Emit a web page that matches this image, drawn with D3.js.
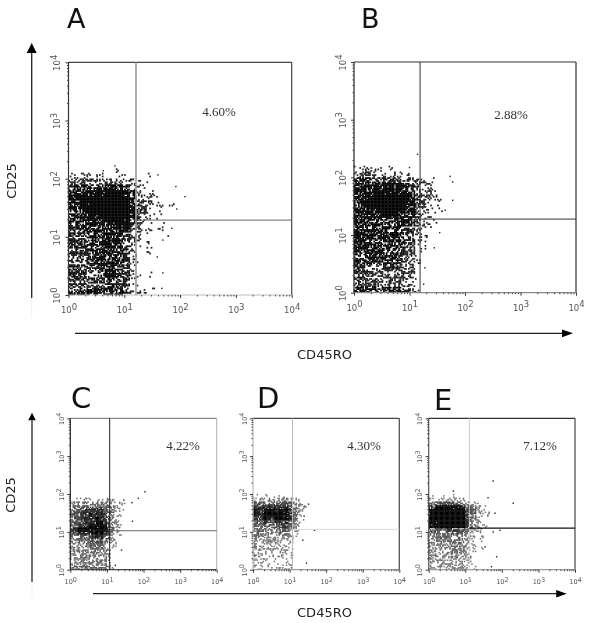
<!DOCTYPE html>
<html>
<head>
<meta charset="utf-8">
<script src="https://cdnjs.cloudflare.com/ajax/libs/d3/7.8.5/d3.min.js"></script>
<style>
  html, body { margin: 0; padding: 0; background: #fff; }
  svg { display: block; }
  .soft { filter: blur(0.45px); }
</style>
</head>
<body>
<script>
// dot clouds: darkness 0-9 for each 0.1 decade cell.
// rows go from CD25 10^2.2 down to 10^0, columns from CD45RO 10^0 to 10^2
const cloudA = [
  "00000000100000000000","11210120011000100000","33443434333210100000","56666777665321100000",
  "77778889987632110000","77889999998643210000","77889999999754211010","77788999999854211000",
  "66778889999653111000","66677778888542100100","55666677776431101000","55566677775320100100",
  "55556677765320100000","55566677665220100000","55556677665210100000","55555667765210000000",
  "55555667665210100000","55555567655100000000","55555567655110100000","55545556555100000000",
  "55545556555110010000","66666666665321000000"]
const cloudB = [
  "11111110000000000000","23321212221000000000","66655555444321100000","77777777765432100000",
  "77778888775432110000","77889999987543210000","77889999988532110000","77788999977432110000",
  "77777888776322100000","66666666665321100000","66666666655221000000","77777666655211000000",
  "77776666655211000000","66666666655210000000","66666666544110000000","65666666544100000000",
  "66665666533100000000","55554555433000000000","55544444433000000000","55443444443100000000",
  "55443344443000000000","66665566654100000000"]
const cloudC = [
  "00000000000000000000","00000000000000000000","00000000000000000000","11121212112210000000",
  "34445444443321100000","55566666655432100000","56677777766531100000","56677877776531100000",
  "56677778776421000000","56677778876421000000","66777888886521000000","77888889887521000000",
  "66777788876311000000","55566677765210000000","44555666654210000000","44445555543110000000",
  "44444455543110000000","33444454442100000000","33444444442100000000","33343444442100000000",
  "33343444442000000000","55555555553100000000"]
const cloudD = [
  "00000000000000000000","00000000000000000000","01011101100000000000","33334333433210000000",
  "66556656665432100000","77777777776531100000","87788878887631100000","87788888887631100000",
  "77787788887531000000","66676677776421000000","65566666765321000000","55555555654210000000",
  "55544445543110000000","54433333432100000000","53332333331100000000","42222222221100000000",
  "42222222221100000000","41121212221000000000","41112111111000000000","31111111111000000000",
  "21111111111000000000","33222222221100000000"]
const cloudE = [
  "00000000000000000000","00000000000000000000","01001010100000000000","22322322221100000000",
  "55566666554321000000","77888888876543210000","88999999987653211000","88999999987653211000",
  "88889999987643210000","88899999987543100000","88999999987643110000","66666777665432100000",
  "55555566654321100000","44455555554321100000","43444555544210100000","33444445544210000000",
  "33334445443110100000","33333444433110000000","33333344332100000000","33333333332100000000",
  "32233333332100000000","43333433332110000000"]

// single stray events, [CD45RO, CD25]
const strayA = [[84,73],[122,49],[87,30],[71,14],[49,2.4],[47,1.3],[6.8,166],[4.2,137],[40,116],[49,8.8],[39,4.5]]
const strayB = [[14,251],[10,148],[60,83],[54,104],[60,40],[44,27],[35,11],[28,6],[19,2.7],[18,1.4]]
const strayC = [[110,115],[72,77],[48,59],[29,69],[50,19],[25,3.3],[17,1.3]]
const strayD = [[48,11],[33,54],[25,46],[29,1.5],[23,6],[25,26]]
const strayE = [[205,57],[58,220],[65,31],[72,2.2],[35,4],[52,1.2],[42,80],[4.7,120],[89,11],[58,10]]

const percents = ["4.60%","2.88%","4.22%","4.30%","7.12%"]
const letters = ["A","B","C","D","E"]
const exponents = [0,1,2,3,4]
const gatesX = [16.2,15.5,11.9,12,12.9]   // CD45RO gate
const gatesY = [19.4,18.9,10.7,11.6,12.6] // CD25 gate

// halftone screen: how a cell's darkness is drawn as small dots, not data.
// the two shift lists have other lengths so the tile does not show as stripes
const screen = ["3816274","5927361","1748582","8264813","4385726","7138259","2651847"]
const shiftRow = [0,3,5,1,6,2,4,1,5,0,3]
const shiftCol = [0,4,1,6,3,5,2,0,6,1,4,3,5]
// dot grey per darkness level, the small panels are paler in the picture
const greyBig = ["#000","#222","#222","#222","#222","#111","#000","#000","#000","#000"]
const greySmall = ["#000","#777","#777","#777","#666","#555","#444","#222","#000","#000"]

const width = 600, height = 623
const svg = d3.select("body").append("svg").attr("width",width).attr("height",height)
  .attr("class","soft")

const layout = [
  {l:68.5,r:291.7,t:62.3,b:295,  sub:4,font:8.5,off:8.5,grey:greyBig,cloud:cloudA,stray:strayA,lx:67, ly:28, fs:27,px:219,py:116,
   top:"#444",right:"#444",left:"#333",bottom:"#bbb",vc:"#999",vw:1.6,hc:"#666",hw:1},
  {l:354,  r:576,  t:62,  b:292.7,sub:4,font:8.5,off:8.5,grey:greyBig,cloud:cloudB,stray:strayB,lx:361,ly:28, fs:27,px:511,py:119,
   top:"#333",right:"#333",left:"#222",bottom:"#888",vc:"#333",vw:1,hc:"#333",hw:1},
  {l:70.3, r:216.7,t:418.3,b:569.7,sub:3,font:6.5,off:6.5,grey:greySmall,cloud:cloudC,stray:strayC,lx:71, ly:408,fs:29,px:183,py:450,
   top:"#888",right:"#bbb",left:"#222",bottom:"#444",vc:"#222",vw:1,hc:"#666",hw:1},
  {l:253,  r:399.3,t:418.3,b:569.7,sub:3,font:6.5,off:6.5,grey:greySmall,cloud:cloudD,stray:strayD,lx:257,ly:408,fs:29,px:364,py:450,
   top:"#444",right:"#444",left:"#bbb",bottom:"#999",vc:"#bbb",vw:1,hc:"#ddd",hw:1},
  {l:428.7,r:575,  t:418.3,b:569.7,sub:3,font:6.5,off:6.5,grey:greySmall,cloud:cloudE,stray:strayE,lx:434,ly:410,fs:29,px:540,py:450,
   top:"#333",right:"#444",left:"#555",bottom:"#999",vc:"#ccc",vw:1,hc:"#111",hw:1.2}
]

layout.forEach(function (p, k) {
  const x = d3.scaleLog().domain([1,1e4]).range([p.l,p.r])
  const y = d3.scaleLog().domain([1,1e4]).range([p.b,p.t])
  const g = svg.append("g")

  // cloud cells -> small dots
  const dots = []
  const cols = d3.range(p.cloud[0].length), rows = d3.range(p.cloud.length)
  rows.forEach(function (r) {
    cols.forEach(function (c) {
      const dark = +p.cloud[r][c]
      for (let sy = 0; sy < p.sub; sy++) {
        for (let sx = 0; sx < p.sub; sx++) {
          const col = c*p.sub+sx+k*5, row = r*p.sub+sy+k*3
          const limit = +screen[(row+shiftCol[col%13])%7][(col+shiftRow[row%11])%7]
          if (dark >= limit) {
            dots.push({
              cx: Math.pow(10,(c+sx/p.sub)/10),
              cy: Math.pow(10,(22-r-(sy+1)/p.sub)/10),
              dark: dark
            })
          }
        }
      }
    })
  })
  const dw = (x(Math.pow(10,0.1))-x(1))/p.sub, dh = (y(1)-y(Math.pow(10,0.1)))/p.sub
  // a bit wider than the dot spacing, else the antialiased joins show as a grid
  g.selectAll("rect.dot").data(dots).enter().append("rect")
    .attr("class","dot")
    .attr("x",function (d) { return x(d.cx)-0.15 })
    .attr("y",function (d) { return y(d.cy)-dh-0.15 })
    .attr("width",dw+0.3)
    .attr("height",dh+0.3)
    .attr("fill",function (d) { return p.grey[d.dark] })

  g.selectAll("rect.stray").data(p.stray).enter().append("rect")
    .attr("class","stray")
    .attr("x",function (d) { return x(d[0])-0.7 })
    .attr("y",function (d) { return y(d[1])-0.7 })
    .attr("width",1.4)
    .attr("height",1.4)
    .attr("fill","#222")

  // box, one side at a time since the sides have different greys
  const sides = [
    [1,1e4,1e4,1e4,p.top],[1e4,1e4,1,1e4,p.right],
    [1,1,1,1e4,p.left],[1,1e4,1,1,p.bottom]
  ]
  g.selectAll("line.side").data(sides).enter().append("line")
    .attr("class","side")
    .attr("x1",function (d) { return x(d[0]) })
    .attr("x2",function (d) { return x(d[1]) })
    .attr("y1",function (d) { return y(d[2]) })
    .attr("y2",function (d) { return y(d[3]) })
    .attr("stroke",function (d) { return d[4] })
    .attr("stroke-width",1.2)

  // quadrant gates
  g.append("line").attr("x1",x(gatesX[k])).attr("x2",x(gatesX[k]))
    .attr("y1",y(1)).attr("y2",y(1e4)).attr("stroke",p.vc).attr("stroke-width",p.vw)
  g.append("line").attr("x1",x(gatesX[k])).attr("x2",x(1e4))
    .attr("y1",y(gatesY[k])).attr("y2",y(gatesY[k])).attr("stroke",p.hc).attr("stroke-width",p.hw)

  // log ticks: minor ones first, no labels
  const minor = []
  exponents.slice(0,4).forEach(function (e) {
    d3.range(2,10).forEach(function (m) { minor.push(m*Math.pow(10,e)) })
  })
  const major = exponents.map(function (e) { return Math.pow(10,e) })

  const xa = g.append("g").attr("transform","translate(0,"+p.b+")")
    .call(d3.axisBottom(x).tickValues(minor).tickSize(1.5).tickFormat(""))
  const ya = g.append("g").attr("transform","translate("+p.l+",0)")
    .call(d3.axisLeft(y).tickValues(minor).tickSize(1.5).tickFormat(""))
  xa.select(".domain").remove()
  ya.select(".domain").remove()
  xa.selectAll("line").attr("stroke","#444")
  ya.selectAll("line").attr("stroke","#444")

  const xm = g.append("g").attr("transform","translate(0,"+p.b+")")
    .call(d3.axisBottom(x).tickValues(major).tickSize(3).tickFormat(""))
  const ym = g.append("g").attr("transform","translate("+p.l+",0)")
    .call(d3.axisLeft(y).tickValues(major).tickSize(3).tickFormat(""))
  xm.select(".domain").remove()
  ym.select(".domain").remove()
  xm.selectAll("line").attr("stroke","#333")
  ym.selectAll("line").attr("stroke","#333")

  // tick labels, 10 with the exponent raised
  xm.selectAll(".tick text").each(function (d) {
    const t = d3.select(this).attr("y",p.font+3.5).attr("font-family","DejaVu Sans")
      .attr("font-size",p.font).attr("fill","#555")
    t.append("tspan").text("10")
    t.append("tspan").attr("dy",-p.font*0.4).text(Math.round(Math.log10(d)))
  })
  ym.selectAll(".tick text")
    .attr("x",null).attr("dy",null)
    .each(function (d) {
      const t = d3.select(this)
        .attr("transform","translate("+(-p.off)+",0) rotate(-90)")
        .attr("text-anchor","middle").attr("font-family","DejaVu Sans")
        .attr("font-size",p.font).attr("fill","#555")
      t.append("tspan").text("10")
      t.append("tspan").attr("dy",-p.font*0.4).text(Math.round(Math.log10(d)))
    })

  g.append("text").attr("x",p.px).attr("y",p.py).attr("text-anchor","middle")
    .attr("font-family","Liberation Serif").attr("font-size",13)
    .attr("fill","#333").text(percents[k])

  svg.append("text").attr("x",p.lx).attr("y",p.ly)
    .attr("font-family","DejaVu Sans").attr("font-size",p.fs).attr("fill","#111")
    .text(letters[k])
})

// the big hand drawn arrows
function arrow(x1,y1,x2,y2,size) {
  const dx = Math.sign(x2-x1), dy = Math.sign(y2-y1)
  svg.append("line").attr("x1",x1).attr("y1",y1).attr("x2",x2-dx*size).attr("y2",y2-dy*size)
    .attr("stroke","#222").attr("stroke-width",1.3)
  const w = size/2
  svg.append("path")
    .attr("d","M"+x2+","+y2+"L"+(x2-dx*size-dy*w)+","+(y2-dy*size-dx*w*0.7)+"L"+(x2-dx*size+dy*w)+","+(y2-dy*size+dx*w*0.7)+"Z")
    .attr("fill","#000")
}
arrow(31.7,298,31.7,43,10)
arrow(75,333.3,573,333.3,11)
arrow(32,582,32,412.7,7.5)
arrow(93,593.7,566.7,593.7,10.5)
svg.append("line").attr("x1",31.7).attr("x2",31.7).attr("y1",298).attr("y2",318).attr("stroke","#eee")
svg.append("line").attr("x1",32).attr("x2",32).attr("y1",582).attr("y2",597).attr("stroke","#eee")

// axis titles
const titles = [
  {t:"CD25",x:15.5,y:181,rot:true},
  {t:"CD25",x:15,y:495,rot:true},
  {t:"CD45RO",x:324.5,y:359,rot:false},
  {t:"CD45RO",x:324.5,y:617,rot:false}
]
titles.forEach(function (d) {
  svg.append("text")
    .attr("transform","translate("+d.x+","+d.y+")"+(d.rot?" rotate(-90)":""))
    .attr("text-anchor","middle").attr("font-family","DejaVu Sans").attr("font-size",13)
    .attr("fill","#222").text(d.t)
})
</script>
</body>
</html>
